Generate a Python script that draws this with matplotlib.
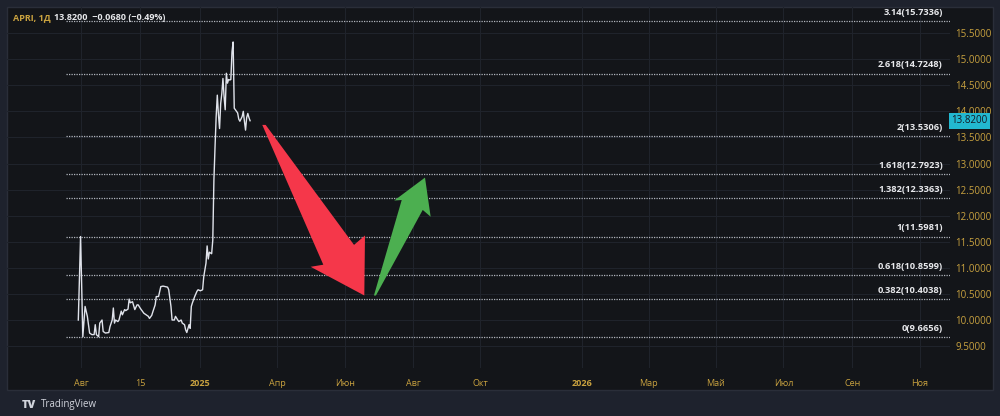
import matplotlib
matplotlib.use('Agg')
import matplotlib.pyplot as plt
from matplotlib.patches import Polygon, Rectangle

plt.rcParams['font.family'] = ['Open Sans', 'DejaVu Sans']

# daily bars since listing (bar index) and closing prices
bars = [0, 2, 4, 6, 8, 10, 12, 14, 15, 16, 18, 19, 21, 22, 24, 27, 28, 30, 31, 32,
        33, 35, 36, 38, 39, 41, 42, 44, 45, 46, 48, 50, 52, 53, 55, 56, 58, 60, 62, 63,
        65, 66, 68, 69, 71, 73, 75, 77, 79, 80, 82, 83, 85, 86, 88, 89, 91, 92, 94, 95,
        96, 98, 99, 100, 101, 103, 105, 106, 108, 110, 111, 113, 114, 115, 116, 118, 119, 120, 121, 122,
        123, 124, 125, 126, 127, 128, 129, 130, 131, 132, 133, 134, 135, 136, 137, 138, 139, 141, 142, 143,
        145, 146, 147, 148, 149, 150, 151, 152]
closes = [10.00, 11.60, 9.68, 10.26, 10.07, 9.75, 9.72, 9.72, 9.91, 9.72, 9.68, 9.94, 10.00, 9.78, 9.75, 9.76, 9.87, 10.00, 10.23, 9.94,
          10.00, 9.97, 10.00, 10.17, 10.10, 10.20, 10.18, 10.21, 10.40, 10.33, 10.35, 10.20, 10.29, 10.29, 10.22, 10.19, 10.13, 10.10, 10.07, 10.03,
          10.09, 10.16, 10.29, 10.45, 10.45, 10.64, 10.65, 10.64, 10.63, 10.58, 10.26, 10.00, 10.00, 10.07, 10.00, 9.97, 10.00, 9.94, 9.91, 9.81,
          9.76, 9.91, 9.84, 10.26, 10.33, 10.45, 10.55, 10.58, 10.56, 10.58, 10.83, 11.09, 11.42, 11.17, 11.30, 11.27, 11.53, 12.68, 13.32, 13.90,
          14.31, 13.94, 13.67, 14.15, 14.34, 14.63, 14.28, 14.03, 14.73, 14.54, 14.61, 14.60, 14.61, 15.14, 15.33, 14.06, 14.03, 13.97, 13.85, 13.81,
          13.90, 14.00, 13.81, 13.64, 13.88, 13.96, 13.88, 13.82]

last_price = 13.82

# fibonacci extension levels
fib_ratios = ['0', '0.382', '0.618', '1', '1.382', '1.618', '2', '2.618', '3.14']
fib_prices = [9.6656, 10.4038, 10.8599, 11.5981, 12.3363, 12.7923, 13.5306, 14.7248, 15.7336]

# time axis
tick_bars = [2.4, 54.6, 107.7, 176.1, 236.4, 296.3, 355.6, 446, 504.6, 564, 624, 685, 744.8]
tick_labels = ['Авг', '15', '2025', 'Апр', 'Июн', 'Авг', 'Окт', '2026', 'Мар', 'Май', 'Июл', 'Сен', 'Ноя']
price_ticks = [9.5, 10.0, 10.5, 11.0, 11.5, 12.0, 12.5, 13.0, 13.5, 14.0, 14.5, 15.0, 15.5]

# hand-drawn arrows (bar, price)
red_arrow = [(162.8, 13.74), (216.8, 11.06), (205.6, 11.02), (253.1, 10.47),
             (253.7, 11.62), (244.0, 11.44), (165.8, 13.74)]
green_arrow = [(261.6, 10.47), (286.2, 12.30), (279.6, 12.29), (306.8, 12.73),
               (311.8, 11.98), (304.8, 12.11), (263.4, 10.47)]

outer_bg = '#1e222d'
panel_bg = '#131519'
grid_c = '#1f232b'
gold = '#c9a23f'

fig = plt.figure(figsize=(10, 4.16), dpi=100, facecolor=outer_bg)
fig.patches.append(Rectangle((0.007, 26 / 416), 0.986, 383 / 416, transform=fig.transFigure,
                             facecolor=panel_bg, edgecolor='#2a2e39', lw=1, zorder=-10))

ax = fig.add_axes([0.007, 48 / 416, 0.943, 361 / 416])
ax.set_zorder(1)
ax.patch.set_alpha(0)
for s in ax.spines.values():
    s.set_visible(False)

ax.set_xlim(-63.1, 771.4)
ax.set_ylim(9.08, 16.0)

ax.set_xticks(tick_bars)
ax.set_xticklabels(tick_labels)
for lbl in ax.get_xticklabels():
    lbl.set_color(gold)
    lbl.set_fontsize(6.5)
    if lbl.get_text() in ('2025', '2026'):
        lbl.set_fontweight('bold')
ax.tick_params(axis='x', length=0, pad=8)

ax.yaxis.tick_right()
ax.set_yticks(price_ticks)
ax.set_yticklabels(['%.4f' % p for p in price_ticks])
ax.tick_params(axis='y', length=0, pad=4, labelsize=7, labelcolor=gold)

ax.grid(True, color=grid_c, lw=0.8)
ax.set_axisbelow(True)

# fib levels
for r, p in zip(fib_ratios, fib_prices):
    ax.plot([-11, 771.4], [p, p], color='#b2b5be', lw=0.9, ls=(0, (1, 1)), zorder=2)
    ax.annotate('%s(%.4f)' % (r, p), xy=(765, p), xytext=(0, 3), textcoords='offset points',
                ha='right', va='bottom', color='#e8e9ec', fontsize=6.7, fontweight='bold')

ax.plot(bars, closes, color='#e0e3eb', lw=1, zorder=3)

ax.add_patch(Polygon(red_arrow, closed=True, facecolor='#f5374a', edgecolor='none', zorder=4))
ax.add_patch(Polygon(green_arrow, closed=True, facecolor='#4caf50', edgecolor='none', zorder=4))

# last price label
ax.annotate('%.4f' % last_price, xy=(1.0, last_price), xycoords=('axes fraction', 'data'),
            xytext=(1, 0), textcoords='offset points', ha='left', va='center',
            fontsize=7, color='#131722',
            bbox=dict(boxstyle='square,pad=0.25', facecolor='#22b8d0', edgecolor='none'),
            annotation_clip=False)

fig.text(0.013, 1 - 17.5 / 416, 'APRI, 1Д', color=gold, fontsize=6.5, va='center', fontweight='bold')
fig.text(0.054, 1 - 17.5 / 416, '13.8200  −0.0680 (−0.49%)', color='#e8e9ec', fontsize=6.5,
         va='center', fontweight='bold')

fig.text(0.022, 1 - 405 / 416, 'TV', color='#d1d4dc', fontsize=8, va='center', fontweight='heavy')
fig.text(0.041, 1 - 405 / 416, 'TradingView', color='#d1d4dc', fontsize=7, va='center')

fig.savefig('out.png', dpi=100, facecolor=outer_bg)
